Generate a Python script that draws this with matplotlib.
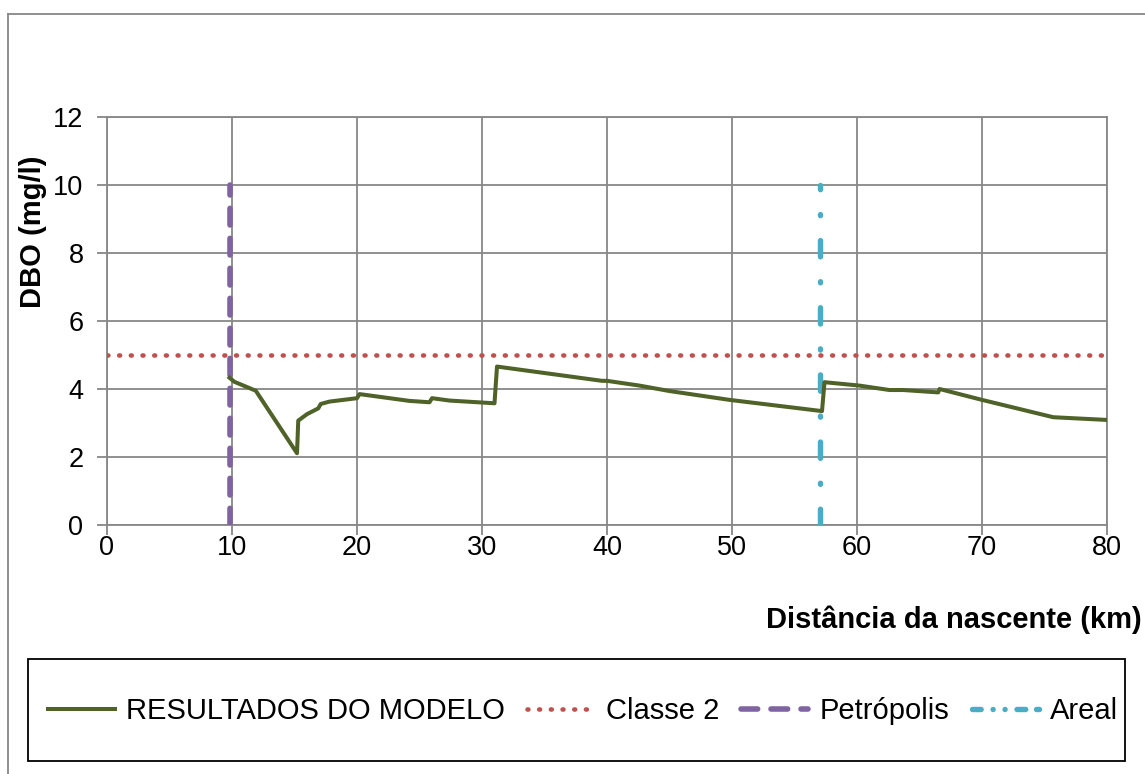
import numpy as np
import matplotlib
matplotlib.use('Agg')
import matplotlib.pyplot as plt
from matplotlib.patches import Rectangle
from matplotlib.lines import Line2D

plt.rcParams['font.family'] = ['Liberation Sans', 'DejaVu Sans']

# model results
dist_km = [9.8, 10.2, 11.9, 15.2, 15.3, 16.0, 16.9, 17.1, 17.8, 20.0, 20.2, 24.2,
           25.8, 26.0, 27.4, 31.0, 31.2, 39.6, 40.0, 42.6, 45.0, 49.8, 57.2, 57.4,
           60.2, 62.6, 63.7, 66.5, 66.6, 70.0, 75.7, 80.0]
dbo = [4.33, 4.21, 3.95, 2.11, 3.07, 3.26, 3.43, 3.56, 3.63, 3.73, 3.85, 3.65,
       3.61, 3.73, 3.66, 3.58, 4.66, 4.24, 4.24, 4.10, 3.94, 3.68, 3.35, 4.20,
       4.10, 3.97, 3.97, 3.90, 4.00, 3.68, 3.17, 3.09]

classe2_x = [0, 80]
classe2_y = [5, 5]
petropolis_x = [9.8, 9.8]
petropolis_y = [0, 10]
areal_x = [57, 57]
areal_y = [0, 10]

xticks = [0, 10, 20, 30, 40, 50, 60, 70, 80]
yticks = [0, 2, 4, 6, 8, 10, 12]

W, H = 1145, 774
fig = plt.figure(figsize=(W / 100, H / 100), dpi=100)
ax = fig.add_axes([107 / W, 1 - 525 / H, 1000 / W, 408 / H])

grid_c = '#878787'
areal_c = '#4BACC6'
ax.plot(dist_km, dbo, color='#4F6228', lw=2.9, label='RESULTADOS DO MODELO', zorder=4)
ax.plot(classe2_x, classe2_y, color='#C0504D', lw=3.3, linestyle=(0, (0.2, 2.35)),
        dash_capstyle='round', label='Classe 2', zorder=3)
ax.plot(petropolis_x, petropolis_y, color='#8064A2', lw=4.0, linestyle=(0, (3.0, 2.4)),
        dash_capstyle='round', label='Petrópolis', zorder=3)
ax.plot(areal_x, areal_y, color=areal_c, lw=3.9, linestyle=(0, (3.0, 4.6, 0.2, 4.6)),
        dash_capstyle='round', label='Areal', zorder=3)

ax.set_xlim(0, 80)
ax.set_ylim(0, 12)
ax.set_xticks(xticks)
ax.set_yticks(yticks)
ax.grid(True, color=grid_c, lw=1.3)
for s in ax.spines.values():
    s.set_color(grid_c)
    s.set_linewidth(1.3)
ax.tick_params(colors=grid_c, length=7, width=1.3, labelcolor='black', labelsize=19.5)
ax.tick_params(axis='y', pad=10)
ax.tick_params(axis='x', pad=0)
ax.set_axisbelow(True)

fig.text(33 / W, 1 - 232 / H, 'DBO (mg/l)', rotation=90, fontsize=21, fontweight='bold',
         ha='center', va='center')
fig.text(1142 / W, 1 - 620 / H, 'Distância da nascente (km)', fontsize=21,
         fontweight='bold', ha='right', va='center')

# outer chart border (left and top)
fig.add_artist(Line2D([8 / W, 8 / W], [0, 1 - 14 / H], color=grid_c, lw=1.3))
fig.add_artist(Line2D([8 / W, 1], [1 - 14 / H, 1 - 14 / H], color=grid_c, lw=1.3))

# legend box
fig.add_artist(Rectangle((28 / W, 1 - 761 / H), 1097 / W, 102 / H, transform=fig.transFigure,
                         fill=False, edgecolor='black', lw=1.3))
handles, labels = ax.get_legend_handles_labels()
# shorter dash pattern for the Areal legend sample
handles[3] = Line2D([], [], color=areal_c, lw=3.9, dash_capstyle='round',
                    linestyle=(0, (1.6, 2.2, 0.01, 2.2, 0.01, 2.2, 1.6, 2.0)))
fig.legend(handles, labels, loc='center', bbox_to_anchor=(583 / W, 1 - 711 / H), ncol=4,
           frameon=False, fontsize=21, handlelength=2.3, handletextpad=0.4,
           columnspacing=0.75, borderpad=0, borderaxespad=0)

fig.savefig('out.png', dpi=100)
